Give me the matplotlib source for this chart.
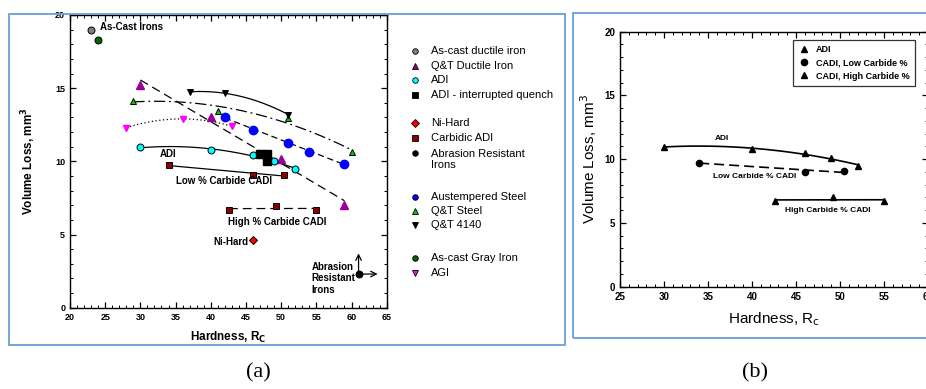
import numpy as np
import matplotlib
matplotlib.use("Agg")
import matplotlib.pyplot as plt
from matplotlib.patches import Rectangle
from matplotlib.lines import Line2D

plt.rcParams['font.family'] = ['Liberation Sans', 'DejaVu Sans']

# ------------------ data, panel (a) ------------------
ascast_di_x = [23]
ascast_di_y = [19.0]
ascast_gi_x = [24]
ascast_gi_y = [18.3]

qt_di_x = [30, 40, 50, 59]
qt_di_y = [15.25, 13.05, 10.15, 7.0]

qt_steel_x = [29, 41, 51, 60]
qt_steel_y = [14.15, 13.45, 12.95, 10.65]

qt4140_x = [37, 42, 51]
qt4140_y = [14.75, 14.65, 13.2]

agi_x = [28, 36, 43]
agi_y = [12.3, 12.9, 12.4]

aus_steel_x = [42, 46, 51, 54, 59]
aus_steel_y = [13.05, 12.15, 11.25, 10.65, 9.85]

adi_x = [30, 40, 46, 49, 52]
adi_y = [10.95, 10.75, 10.45, 10.05, 9.45]

adi_iq_x = [47, 48, 48]
adi_iq_y = [10.5, 10.5, 10.05]

cadi_low_x = [34, 46, 50.4]
cadi_low_y = [9.75, 9.05, 9.1]

cadi_high_x = [42.6, 49.2, 54.9]
cadi_high_y = [6.68, 6.97, 6.68]

nihard_x = [46]
nihard_y = [4.6]

ari_x = [61]
ari_y = [2.3]

# ------------------ data, panel (b) ------------------
b_adi_x = [30, 40, 46, 49, 52]
b_adi_y = [10.98, 10.77, 10.46, 10.07, 9.5]
b_low_x = [34, 46, 50.4]
b_low_y = [9.73, 9.02, 9.06]
b_high_x = [42.6, 49.2, 55]
b_high_y = [6.72, 7.0, 6.72]

legend_a = [
    ("As-cast ductile iron", 'o', '#808080'),
    ("Q&T Ductile Iron", '^', '#990099'),
    ("ADI", 'o', '#00ffff'),
    ("ADI - interrupted quench", 's', 'black'),
    ("Ni-Hard", 'D', 'red'),
    ("Carbidic ADI", 's', '#8b0000'),
    ("Abrasion Resistant\nIrons", 'o', 'black'),
    ("Austempered Steel", 'o', 'blue'),
    ("Q&T Steel", '^', '#00cc00'),
    ("Q&T 4140", 'v', 'black'),
    ("As-cast Gray Iron", 'o', '#006400'),
    ("AGI", 'v', '#ff00ff'),
]
legend_rows = [50.7, 65.7, 80, 95, 122.7, 137.7, 153.5, 196.7, 211, 225, 258.3, 272.7]

legend_b = ["ADI", "CADI, Low Carbide %", "CADI, High Carbide %"]

W, H = 926, 389
fig = plt.figure(figsize=(W / 100, H / 100), dpi=100)


def fx(px):
    return px / W


def fy(py):
    return 1 - py / H


# blue frames
fig.patches.append(Rectangle((fx(8.5), fy(344.5)), fx(565 - 8.5), (344.5 - 13.5) / H,
                             transform=fig.transFigure, fill=False, ec='#6a9fd8', lw=1.3))
fig.patches.append(Rectangle((fx(573), fy(338)), fx(400), (338 - 13) / H,
                             transform=fig.transFigure, fill=False, ec='#6a9fd8', lw=1.3))


def fit_line(ax, x, y, deg, ls, lw=0.9):
    c = np.polyfit(x, y, deg)
    xs = np.linspace(min(x), max(x), 100)
    ax.plot(xs, np.polyval(c, xs), color='black', ls=ls, lw=lw, zorder=2)


def style_axes(ax, xticks, xlim, lblsize):
    ax.set_xticks(xticks)
    ax.set_yticks([0, 5, 10, 15, 20])
    ax.set_xlim(*xlim)
    ax.set_ylim(0, 20)
    ax.xaxis.set_minor_locator(matplotlib.ticker.MultipleLocator(1))
    ax.yaxis.set_minor_locator(matplotlib.ticker.MultipleLocator(1))
    ax.tick_params(which='both', direction='in', top=True, right=True)
    ax.tick_params(which='major', length=4, width=0.9, labelsize=lblsize)
    ax.tick_params(which='minor', length=2, width=0.7)
    for lab in ax.get_xticklabels() + ax.get_yticklabels():
        lab.set_fontweight('bold')
    for s in ax.spines.values():
        s.set_linewidth(1.0)


# ==================== panel (a) ====================
ax = fig.add_axes([fx(70), fy(307.7), (386.7 - 70) / W, (307.7 - 15) / H])

fit_line(ax, qt_di_x, qt_di_y, 1, (0, (7, 4)))
fit_line(ax, qt_steel_x, qt_steel_y, 2, (0, (9, 3, 1.5, 3)))
fit_line(ax, qt4140_x, qt4140_y, 2, '-')
fit_line(ax, agi_x, agi_y, 2, (0, (1, 2)))
fit_line(ax, aus_steel_x, aus_steel_y, 1, (0, (5, 3)))
fit_line(ax, adi_x, adi_y, 2, '-')
fit_line(ax, cadi_low_x, cadi_low_y, 1, '-')
fit_line(ax, cadi_high_x, cadi_high_y, 1, (0, (7, 4)))

ms = 5
mk = dict(ls='none', mec='black', mew=0.7, ms=ms, zorder=3)
ax.plot(ascast_di_x, ascast_di_y, marker='o', mfc='#808080', **mk)
ax.plot(ascast_gi_x, ascast_gi_y, marker='o', mfc='#006400', **mk)
ax.plot(qt_di_x, qt_di_y, marker='^', mfc='#990099', mec='#990099', ls='none', ms=ms + 1, zorder=3)
ax.plot(qt_steel_x, qt_steel_y, marker='^', mfc='#00cc00', **mk)
ax.plot(qt4140_x, qt4140_y, marker='v', mfc='black', **mk)
ax.plot(agi_x, agi_y, marker='v', mfc='#ff00ff', mec='#ff00ff', ls='none', ms=ms, zorder=3)
ax.plot(aus_steel_x, aus_steel_y, marker='o', mfc='blue', mec='blue', ls='none', ms=ms + 1, zorder=3)
ax.plot(adi_x, adi_y, marker='o', mfc='#00ffff', **mk)
ax.plot(adi_iq_x, adi_iq_y, marker='s', mfc='black', ls='none', mec='black', ms=ms + 1, zorder=3)
ax.plot(cadi_low_x, cadi_low_y, marker='s', mfc='#8b0000', **mk)
ax.plot(cadi_high_x, cadi_high_y, marker='s', mfc='#8b0000', **mk)
ax.plot(nihard_x, nihard_y, marker='D', mfc='red', ms=4.5, ls='none', mec='black', mew=0.7, zorder=3)
ax.plot(ari_x, ari_y, marker='o', mfc='black', **mk)

# arrows for abrasion resistant irons
ax.annotate('', xy=(ari_x[0], 3.9), xytext=(ari_x[0], ari_y[0]),
            arrowprops=dict(arrowstyle='->', lw=0.9, color='black'))
ax.annotate('', xy=(64.1, ari_y[0]), xytext=(ari_x[0], ari_y[0]),
            arrowprops=dict(arrowstyle='->', lw=0.9, color='black'))

tk = dict(fontsize=7, fontweight='bold')
ax.text(24.3, 19.2, "As-Cast Irons", va='center', **tk)
ax.text(32.8, 10.5, "ADI", va='center', **tk)
ax.text(35.0, 8.66, "Low % Carbide CADI", va='center', **tk)
ax.text(42.4, 5.88, "High % Carbide CADI", va='center', **tk)
ax.text(45.4, 4.47, "Ni-Hard", va='center', ha='right', **tk)
ax.text(54.3, 2.0, "Abrasion\nResistant\nIrons", va='center', linespacing=1.15, **tk)

style_axes(ax, np.arange(20, 66, 5), (20, 65), 6.5)
ax.set_xlabel("Hardness, R$_\\mathbf{C}$", fontsize=8.5, fontweight='bold', labelpad=6)
ax.set_ylabel("Volume Loss, mm$^\\mathbf{3}$", fontsize=8.5, fontweight='bold', labelpad=12)

# legend panel (a), drawn by hand
for (lab, m, c), row in zip(legend_a, legend_rows):
    fig.lines.append(Line2D([fx(415)], [fy(row)], transform=fig.transFigure,
                            marker=m, ms=4, mfc=c, mec='black', mew=0.6, ls='none'))
    if '\n' in lab:
        fig.text(fx(431), fy(row + 5.8), lab, va='center', fontsize=8, linespacing=1.2)
    else:
        fig.text(fx(431), fy(row), lab, va='center', fontsize=8)

# ==================== panel (b) ====================
bx = fig.add_axes([fx(620), fy(286.7), (928 - 620) / W, (286.7 - 31.7) / H])
fit_line(bx, b_adi_x, b_adi_y, 2, '-', lw=1.2)
fit_line(bx, b_low_x, b_low_y, 1, (0, (6, 3)), lw=1.2)
fit_line(bx, b_high_x, b_high_y, 1, '-', lw=1.2)
bx.plot(b_adi_x, b_adi_y, marker='^', color='black', ls='none', ms=4, label=legend_b[0])
bx.plot(b_low_x, b_low_y, marker='o', color='black', ls='none', ms=4.5, label=legend_b[1])
bx.plot(b_high_x, b_high_y, marker='^', color='black', ls='none', ms=4, label=legend_b[2])
bk = dict(fontsize=6, fontweight='bold', ha='center', va='center')
bx.text(36.6, 11.6, "ADI", **bk)
bx.text(40.3, 8.63, "Low Carbide % CADI", **bk)
bx.text(48.6, 6.0, "High Carbide % CADI", **bk)
style_axes(bx, np.arange(25, 61, 5), (25, 60), 7)
bx.set_xlabel("Hardness, R$_\\mathrm{c}$", fontsize=11, labelpad=6)
bx.set_ylabel("Volume Loss, mm$^3$", fontsize=11, labelpad=4)
leg = bx.legend(loc='upper left', bbox_to_anchor=((792.7 - 620) / 308, 1 - (40 - 31.7) / 255),
                frameon=True, fancybox=False, edgecolor='black',
                prop=dict(weight='bold', size=6.5), handlelength=1.2, handletextpad=0.8,
                borderpad=0.6, labelspacing=0.45, borderaxespad=0)
leg.get_frame().set_linewidth(0.9)

fig.text(fx(258), fy(373), "(a)", fontsize=16, family='Liberation Serif', ha='center', va='center')
fig.text(fx(755), fy(373), "(b)", fontsize=16, family='Liberation Serif', ha='center', va='center')

fig.savefig("out.png", dpi=100)
